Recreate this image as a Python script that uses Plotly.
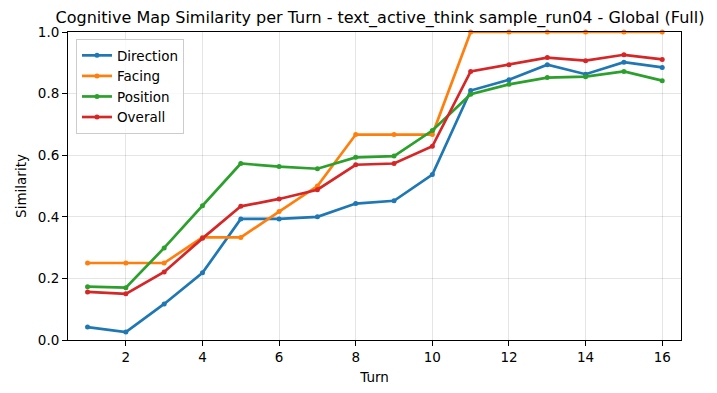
import plotly.graph_objects as go

turns = list(range(1, 17))
direction = [0.042, 0.026, 0.117, 0.218, 0.393, 0.393, 0.400, 0.443, 0.452, 0.537,
             0.810, 0.845, 0.894, 0.863, 0.902, 0.885]
facing = [0.25, 0.25, 0.25, 0.333, 0.333, 0.417, 0.50, 0.667, 0.667, 0.667,
          1.0, 1.0, 1.0, 1.0, 1.0, 1.0]
position = [0.173, 0.170, 0.299, 0.436, 0.573, 0.563, 0.556, 0.593, 0.597, 0.680,
            0.798, 0.830, 0.852, 0.855, 0.872, 0.842]
overall = [0.156, 0.150, 0.221, 0.330, 0.434, 0.458, 0.488, 0.569, 0.573, 0.629,
           0.872, 0.894, 0.917, 0.907, 0.926, 0.911]

series = [("Direction", direction, "#1f77b4"),
          ("Facing", facing, "#ff7f0e"),
          ("Position", position, "#2ca02c"),
          ("Overall", overall, "#d62728")]

font = "DejaVu Sans"
W, H = 717, 393
# page has an 8px body margin: compensate so the plot lands where the reference has it
L, R, T, B = 53, 44, 24, 61
FS = 13.5

fig = go.Figure()
for name, vals, col in series:
    fig.add_trace(go.Scatter(x=turns, y=vals, name=name, mode="lines+markers",
                             line=dict(color=col, width=2.7),
                             marker=dict(color=col, size=5),
                             cliponaxis=False))

fig.update_layout(
    width=W, height=H,
    margin=dict(l=L, r=R, t=T, b=B),
    paper_bgcolor="white", plot_bgcolor="white",
    font=dict(family=font, size=FS, color="black"),
    title=dict(text="Cognitive Map Similarity per Turn - text_active_think sample_run04 - Global (Full)",
               x=372 / W, xanchor="center", y=1 - 9.5 / H, yanchor="middle",
               font=dict(size=16, family=font, color="black")),
    showlegend=True,
    legend=dict(x=0.013, y=0.977, xanchor="left", yanchor="top",
                bgcolor="rgba(255,255,255,0.8)", bordercolor="#cccccc", borderwidth=1,
                font=dict(size=FS, family=font), tracegroupgap=0, itemwidth=30),
    xaxis=dict(range=[0.49, 16.49], tickvals=list(range(2, 17, 2)),
               showgrid=True, gridcolor="rgba(0,0,0,0.1)", gridwidth=1,
               showline=True, linecolor="black", linewidth=1, mirror=True,
               ticks="outside", ticklen=5, tickcolor="black", zeroline=False,
               tickfont=dict(size=FS),
               title=dict(text="Turn", font=dict(size=FS), standoff=8)),
    yaxis=dict(range=[0, 1], tickvals=[0, 0.2, 0.4, 0.6, 0.8, 1.0],
               ticktext=["0.0", "0.2", "0.4", "0.6", "0.8", "1.0"],
               showgrid=True, gridcolor="rgba(0,0,0,0.1)", gridwidth=1,
               showline=True, linecolor="black", linewidth=1, mirror=True,
               ticks="outside", ticklen=5, tickcolor="black", zeroline=False,
               tickfont=dict(size=FS),
               title=dict(text="Similarity", font=dict(size=FS), standoff=8)),
)

fig.write_html("out.html")
